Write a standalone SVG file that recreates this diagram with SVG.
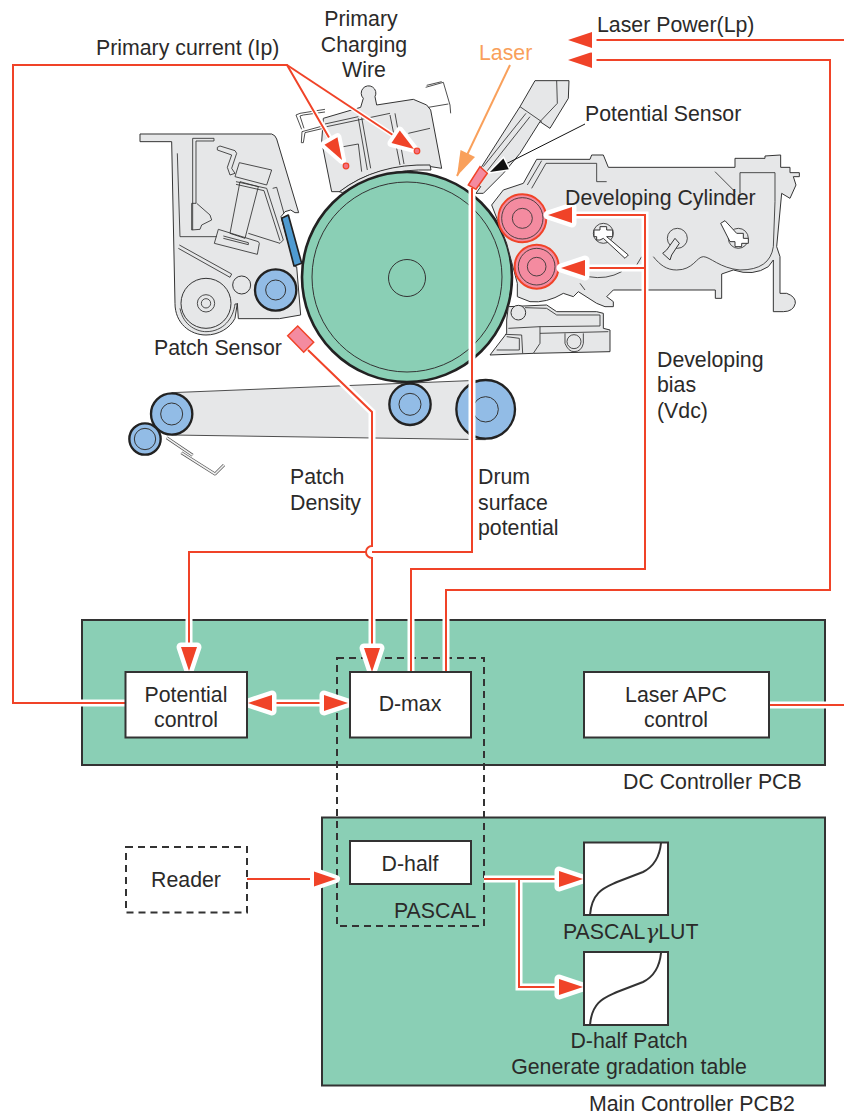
<svg xmlns="http://www.w3.org/2000/svg" width="844" height="1115" viewBox="0 0 844 1115">
<style>
text{font-family:"Liberation Sans",Arial,sans-serif;font-size:21.300px;fill:#2b2a29}
.m{text-anchor:middle}
.panel{fill:#8ACFB5;stroke:#333;stroke-width:2}
.box{fill:#fff;stroke:#333;stroke-width:2}
.dash{fill:none;stroke:#333;stroke-width:2;stroke-dasharray:7 5}
.w{fill:none;stroke:#F04328;stroke-width:2}
.a{marker-end:url(#arr)}
.b{marker-end:url(#arr);marker-start:url(#arrs)}
.c{marker-end:url(#arc)}
.h{fill:none;stroke:#fff;stroke-width:7}
.h2{fill:none;stroke:#fff;stroke-width:5}
.g{fill:#E6E7E8;stroke:#333;stroke-width:3;stroke-linejoin:round}
.l{fill:none;stroke:#333;stroke-width:2.600;stroke-linejoin:round}
.n{fill:none;stroke:#333;stroke-width:2.600}
.blue{fill:#92BCE6;stroke:#222;stroke-width:7}
.blueh{fill:none;stroke:#333;stroke-width:3}
.pink{fill:#F48BA0;stroke:#F04328;stroke-width:6}
</style>
<defs>
<marker id="arr" markerUnits="userSpaceOnUse" markerWidth="44" markerHeight="34" refX="32" refY="17" orient="auto" overflow="visible"><path d="M8,9 L32,17 L8,25 Z" fill="#F04328" stroke="#fff" stroke-width="9" stroke-linejoin="round" paint-order="stroke"/></marker>
<marker id="arrs" markerUnits="userSpaceOnUse" markerWidth="44" markerHeight="34" refX="12" refY="17" orient="auto" overflow="visible"><path d="M36,9 L12,17 L36,25 Z" fill="#F04328" stroke="#fff" stroke-width="9" stroke-linejoin="round" paint-order="stroke"/></marker>
<marker id="arc" markerUnits="userSpaceOnUse" markerWidth="34" markerHeight="28" refX="28" refY="14" orient="auto" overflow="visible"><path d="M6,6.500 L28,14 L6,21.500 Z" fill="#F04328" stroke="#fff" stroke-width="8" stroke-linejoin="round" paint-order="stroke"/></marker>
<marker id="aro" markerUnits="userSpaceOnUse" markerWidth="30" markerHeight="20" refX="25" refY="8" orient="auto" overflow="visible"><path d="M0,0 L25,8 L0,16 Z" fill="#F9A05B"/></marker>
<marker id="ark" markerUnits="userSpaceOnUse" markerWidth="24" markerHeight="16" refX="18" refY="6" orient="auto" overflow="visible"><path d="M0,0 L18,6 L0,12 Z" fill="#111" stroke="#fff" stroke-width="3" paint-order="stroke"/></marker>
</defs>

<g id="belt-unit" transform="translate(120 370) scale(.33333)">
<path class="g" style="stroke:none" d="M155,68 L1097,30 V208 L155,195 Z"/>
<path class="n" d="M155,68 L1097,30 M155,195 L1097,209"/>
<circle class="blue" cx="155" cy="132" r="62"/><circle class="blueh" cx="155" cy="132" r="33"/>
<circle class="blue" cx="75" cy="207" r="47"/><circle class="blueh" cx="75" cy="207" r="32"/>
<circle class="blue" cx="870" cy="103" r="62"/><circle class="blueh" cx="870" cy="103" r="33"/>
<circle class="blue" cx="1097" cy="118" r="88"/><circle class="blueh" cx="1097" cy="118" r="38"/>
<path d="M140,203 L218,256 M184,248 L285,312 L312,285" fill="none" stroke="#555" stroke-width="9" stroke-linejoin="round"/>
<path d="M140,203 L218,256 M184,248 L285,312 L312,285" fill="none" stroke="#F2F2F2" stroke-width="5" stroke-linejoin="round"/>
</g>

<g id="cleaner" transform="translate(120 70) scale(.33333)">
<path class="g" d="M60,192 H455 Q466,195 470,207 L536,428 L525,428 L512,420 L495,425 L483,440 L525,590 L530,590 L542,735 L478,746 H355 L352,700 L345,745 C330,775 295,795 258,795 C210,795 165,760 165,700 L155,215 H60 Z"/>
<path class="l" d="M172,250 L180,500 H290 M178,525 L335,612 L330,622 L175,535 M218,480 V205 H282 V213 H228 V400 L215,400 V480 L240,478 L245,465 L275,450 L270,435 L230,400"/>
<path class="l" d="M360,335 L415,350 L375,505 L330,490 Z M358,278 L455,300 L440,345 L345,320 Z M292,232 L300,228 L345,242 L350,250 L335,295 L345,310 L330,315 L322,292 L335,255 L292,240 Z M295,478 L415,515 L418,520 L412,553 L283,520 Z M310,498 L385,518 L385,524 L310,505 M348,335 L440,355 L490,510 L480,520 L385,490 M348,343 L432,362 L480,512 M458,355 L470,352 L492,430"/>
<circle class="g" cx="258" cy="700" r="75"/>
<path class="l" d="M180,715 C190,770 235,785 258,785 C310,785 340,745 345,702 H352"/>
<circle class="n" cx="258" cy="700" r="26"/><circle class="n" cx="258" cy="700" r="14"/>
<circle class="g" cx="365" cy="645" r="27"/>
<circle class="blue" cx="467" cy="660" r="62"/><circle class="blueh" cx="467" cy="660" r="30"/>
<path d="M485,445 L505,435 L545,580 L522,588 Z" fill="#4F9BD1" stroke="#222" stroke-width="5" stroke-linejoin="round"/>
</g>

<g id="charger" transform="translate(280 0) scale(.33333)">
<path class="g" d="M242,322 L250,295 A22,22 0 1 1 285,290 L290,315 L400,298 L440,315 L452,330 L485,505 L440,498 Q280,495 180,575 L155,575 L125,425 L130,355 Z"/>
<path class="l" d="M130,385 L75,398 L70,428 L64,428 L66,395 L128,378 M135,328 L60,340 L48,345 L65,388 M135,336 L70,345 L60,348 L72,385 M437,262 L490,247 L510,315 L512,340 M440,256 L485,245 M445,322 L505,312 M135,372 L235,350 M140,380 L330,340 M235,355 L262,510 M245,352 L272,505 M330,345 L360,495 M345,340 L372,492 M385,400 L450,385 M190,440 L235,432 L245,515"/>
<path class="g" d="M178,575 Q290,490 450,495 L453,510 Q300,505 188,578 Z"/>
</g>

<g id="drum">
<circle cx="407" cy="277" r="105" fill="#8ACFB5" stroke="#222" stroke-width="2.600"/>
<circle cx="407" cy="277" r="95" fill="none" stroke="#333" stroke-width="1"/>
<circle cx="407" cy="278" r="18.500" fill="none" stroke="#333" stroke-width="1"/>
</g>

<g id="developer" transform="translate(440 70) scale(.33333)">
<path class="g" d="M155,405 L190,360 L250,340 L290,268 H450 L455,255 H490 L505,292 H885 V265 H975 V258 L1022,255 V292 H1050 V308 H1078 V320 H1060 L1068,345 L1050,385 L1025,370 L1010,530 L1020,560 V670 H1040 Q1068,680 1066,700 Q1060,725 1030,725 H1000 V570 L985,590 Q940,620 880,600 L845,612 V685 H826 V660 H520 L500,680 L520,695 V710 H495 L470,700 L415,665 L400,680 L370,670 Q320,700 270,695 L232,680 V640 L200,520 Z"/>
<path class="l" d="M275,355 L318,280 H470 V335 H500 M262,345 L305,272 M825,305 L885,365 M900,370 V308 H1005 V395 L1000,530 Q990,600 900,600 C840,595 810,560 790,560 C770,560 760,600 710,600 C680,600 660,585 640,560 M605,560 L590,585 M445,620 Q500,630 545,605 M420,640 L435,660"/>
<circle class="l" cx="490" cy="490" r="30"/>
<path class="g" style="fill:#fff" d="M480,470 H500 V480 H518 V500 H500 L565,555 L555,565 L490,505 L480,510 H470 V500 H462 V480 H480 Z"/>
<circle class="l" cx="712" cy="505" r="30"/>
<path class="g" d="M705,505 L718,520 L695,555 L690,570 L668,550 L680,540 Z"/>
<circle class="l" cx="895" cy="505" r="30"/>
<path class="g" style="fill:#fff" d="M842,460 L855,452 L890,490 H910 V505 H925 V520 H905 V530 H885 V515 H870 Z"/>
<circle class="pink" cx="247" cy="445" r="72"/><circle class="n" cx="247" cy="445" r="62"/><circle class="n" cx="247" cy="445" r="30"/>
<circle class="pink" cx="290" cy="590" r="66"/><circle class="n" cx="290" cy="590" r="55"/><circle class="n" cx="290" cy="590" r="28"/>
<path class="g" d="M205,710 L320,705 L350,725 H470 L490,730 V775 L510,780 V845 L280,850 L150,855 L200,790 V750 Z"/>
<path class="l" d="M205,775 L300,770 L480,768 V735 L350,735 L320,715 L255,713 M195,793 L245,795 L248,850 M170,840 L238,840 V805 L200,800 M300,790 L505,785 M300,770 V820 L280,850 M375,790 V820 Q385,845 402,845 Q425,845 430,820 V790"/>
<circle class="g" cx="235" cy="728" r="22"/>
<circle class="n" cx="402" cy="815" r="21"/>
</g>

<g id="sensor-arm" transform="translate(440 70) scale(.33333)">
<path class="g" d="M285,32 H387 L385,85 L330,175 L300,155 L240,250 L190,310 L130,370 L108,370 L122,350 L100,335 L125,290 L240,110 Z"/>
<path class="l" d="M350,32 L352,100 L300,155 M240,110 L305,155 M270,140 L142,302 M258,130 L130,290"/>
</g>

<g id="dc-pcb"><rect class="panel" x="82" y="620" width="743" height="145"/></g>
<g id="main-pcb"><rect class="panel" x="322" y="817.500" width="503" height="268"/></g>
<g id="pascal"><rect class="dash" x="337" y="658" width="147" height="268"/></g>

<g id="connectors">
<path class="h" d="M125,703 H13 V65 H287"/>
<path class="h2" d="M287,65 L343,160 M287,65 L414,149"/>
<path class="h" d="M308,350 L372,412 V546 M372,558 V672"/>
<path class="h" d="M472,188 V552 H372 M366,552 H189 V671"/>
<path class="h" d="M411,672 V569 H645 V215 H548 M645,268 H561"/>
<path class="h" d="M446,672 V590 H830 V60 H568"/>
<path class="h" d="M769,705 H844"/>
<path class="h" d="M250,703 H346"/>
<path class="h" d="M484,879 H583 M519,879 V987 H583"/>

<path class="w c" d="M125,703 H13 V65 H287 L342,160"/>
<path class="w c" d="M287,65 L414,149"/>
<path class="w a" d="M308,350 L372,412 V546 A6,6 0 0 0 372,558 V672"/>
<path class="w a" d="M472,188 V552 H372 M366,552 H189 V671"/>
<path class="w a" d="M411,672 V569 H645 V215 H548"/>
<path class="w a" d="M645,268 H561"/>
<path class="w a" d="M446,672 V590 H830 V60 H568"/>
<path class="w a" d="M844,40 H568"/>
<path class="w" d="M769,705 H844"/>
<path class="w b" d="M248,703 H348"/>
<path class="w c" d="M247,879 H336"/>
<path class="w a" d="M484,879 H583"/>
<path class="w a" d="M519,879 V987 H583"/>
<path d="M510,65 L457,176" fill="none" stroke="#F9A05B" stroke-width="2" marker-end="url(#aro)"/>
<path d="M585,124 L490,172" fill="none" stroke="#111" stroke-width="1" marker-end="url(#ark)"/>
</g>

<g id="patch-sensor"><path d="M287.700,335.700 L297.700,326 L313.700,342.300 L303.700,352.300 Z" fill="#F48BA0" stroke="#F04328" stroke-width="1.500"/></g>
<g id="potential-sensor"><path d="M468.300,185 L480,166.700 L487.300,173.300 L476,189.300 Z" fill="#F48BA0" stroke="#F04328" stroke-width="1.500"/></g>
<g id="wire-a"><circle cx="346" cy="166" r="2.800" fill="#F4717F" stroke="#F04328" stroke-width="1.200"/></g>
<g id="wire-b"><circle cx="417" cy="151" r="2.800" fill="#F4717F" stroke="#F04328" stroke-width="1.200"/></g>

<g id="potential-control"><rect class="box" x="125.500" y="672" width="121.500" height="65.500"/><text class="m" x="186" y="702">Potential</text><text class="m" x="186" y="727">control</text></g>
<g id="d-max"><rect class="box" x="350" y="672" width="121" height="65.500"/><text class="m" x="410" y="711">D-max</text></g>
<g id="laser-apc"><rect class="box" x="584" y="672" width="185" height="65.500"/><text class="m" x="676" y="702">Laser APC</text><text class="m" x="676" y="727">control</text></g>
<g id="d-half"><rect class="box" x="350" y="841" width="121" height="43"/><text class="m" x="410" y="871">D-half</text></g>
<g id="reader"><rect class="dash" x="126" y="847" width="121" height="65.500"/><text class="m" x="186" y="887">Reader</text></g>
<g id="lut1"><rect class="box" x="584" y="842.500" width="84" height="72.500"/><path d="M590,915 C592,890 607,887 617,882 L643,872 C657,865 660,853 661,843" fill="none" stroke="#333" stroke-width="2"/></g>
<g id="lut2"><rect class="box" x="584" y="952" width="84" height="73"/><path d="M590,1025 C592,1000 607,997 617,992 L643,982 C657,975 660,963 661,953" fill="none" stroke="#333" stroke-width="2"/></g>

<g id="labels">
<text x="96" y="55">Primary current (Ip)</text>
<text class="m" x="361" y="26">Primary</text>
<text class="m" x="364" y="52">Charging</text>
<text class="m" x="364" y="77">Wire</text>
<text x="597" y="32">Laser Power(Lp)</text>
<text x="479" y="60" style="fill:#F9A05B">Laser</text>
<text x="585" y="121">Potential Sensor</text>
<text x="565" y="205">Developing Cylinder</text>
<text x="154" y="355">Patch Sensor</text>
<text x="657" y="367">Developing</text>
<text x="657" y="392">bias</text>
<text x="657" y="418">(Vdc)</text>
<text x="290" y="484">Patch</text>
<text x="290" y="510">Density</text>
<text x="478" y="484">Drum</text>
<text x="478" y="510">surface</text>
<text x="478" y="535">potential</text>
<text x="623" y="789">DC Controller PCB</text>
<text x="394" y="918">PASCAL</text>
<text x="563" y="939">PASCAL<tspan style="font-family:'DejaVu Serif',serif;font-style:italic">γ</tspan>LUT</text>
<text class="m" x="629" y="1048">D-half Patch</text>
<text class="m" x="629" y="1074">Generate gradation table</text>
<text x="589" y="1111">Main Controller PCB2</text>
</g>
</svg>
